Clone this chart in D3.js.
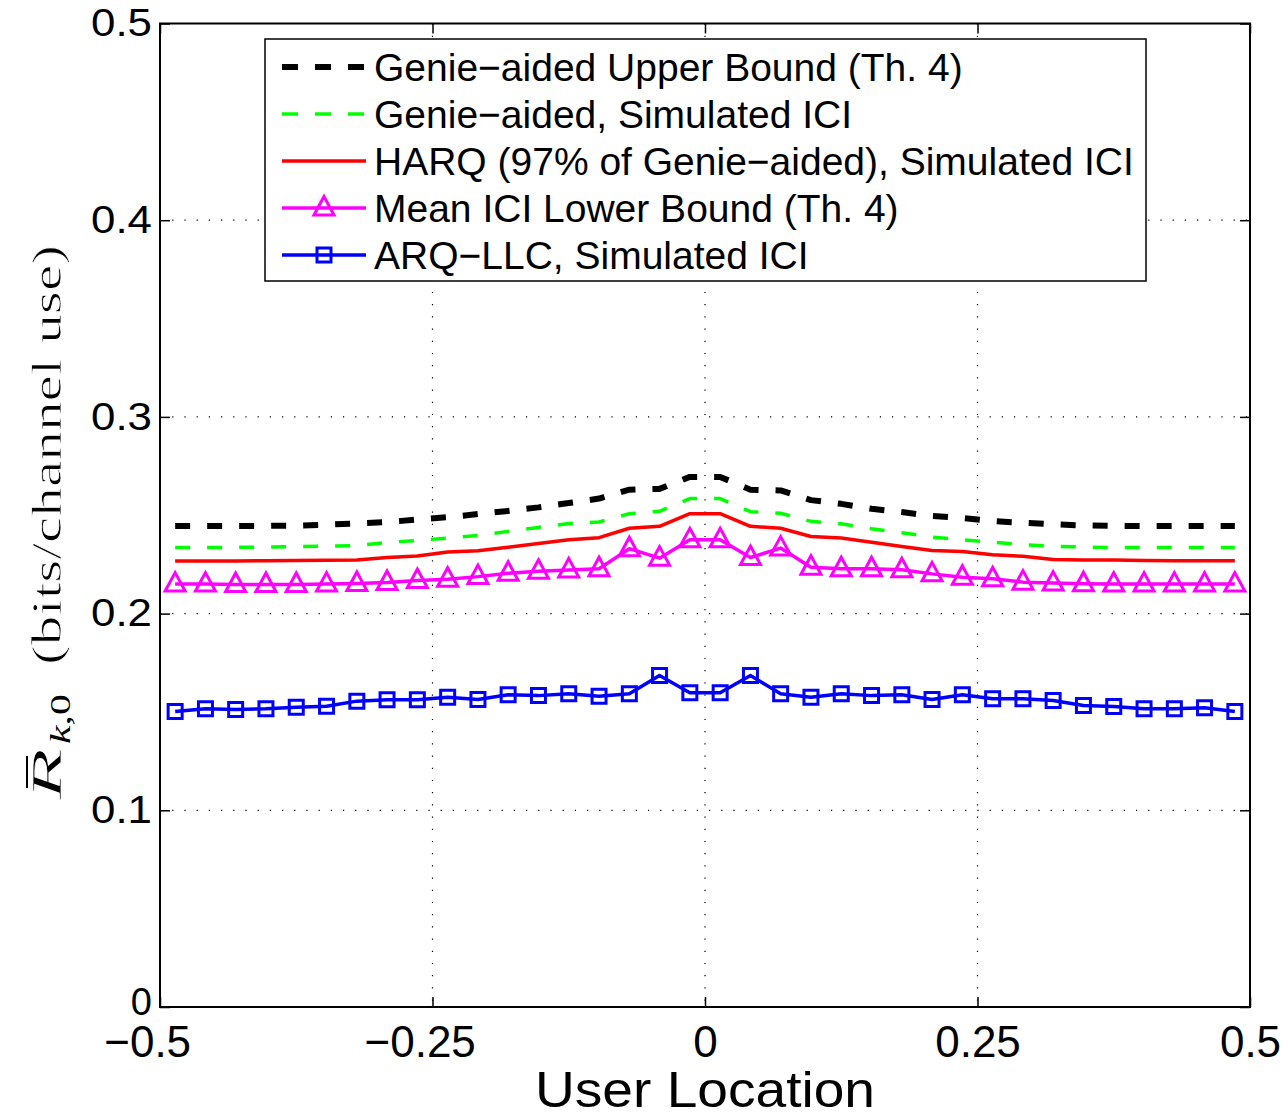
<!DOCTYPE html>
<html>
<head>
<meta charset="utf-8">
<script src="https://cdn.jsdelivr.net/npm/d3@7"></script>
<style>
  body { margin: 0; background: #fff; }
  svg { display: block; }
  .axis text { font-family: "Liberation Sans", Arial, sans-serif; fill: #000; }
  .axis line { stroke: #000; stroke-width: 1.5; }
</style>
</head>
<body>
<div id="chart"></div>
<script>
// User location of each simulated user
const userLocation = [-0.4861, -0.4583, -0.4306, -0.4028, -0.3750, -0.3472, -0.3194, -0.2917, -0.2639,
    -0.2361, -0.2083, -0.1806, -0.1528, -0.1250, -0.0972, -0.0694, -0.0417, -0.0139,
    0.0139, 0.0417, 0.0694, 0.0972, 0.1250, 0.1528, 0.1806, 0.2083, 0.2361,
    0.2639, 0.2917, 0.3194, 0.3472, 0.3750, 0.4028, 0.4306, 0.4583, 0.4861];

// Series values
const genieUpperBound = [0.2445, 0.2445, 0.2445, 0.2446, 0.2447, 0.2452, 0.2458, 0.2465, 0.2478,
    0.2490, 0.2506, 0.2522, 0.2540, 0.2562, 0.2585, 0.2630, 0.2634, 0.2695,
    0.2695, 0.2630, 0.2626, 0.2577, 0.2558, 0.2533, 0.2516, 0.2496, 0.2486,
    0.2470, 0.2462, 0.2454, 0.2448, 0.2446, 0.2445, 0.2445, 0.2445, 0.2445];
const genieSimulated = [0.2336, 0.2336, 0.2337, 0.2338, 0.2340, 0.2343, 0.2345, 0.2362, 0.2372,
    0.2384, 0.2397, 0.2418, 0.2438, 0.2458, 0.2466, 0.2508, 0.2520, 0.2585,
    0.2585, 0.2518, 0.2510, 0.2469, 0.2457, 0.2431, 0.2411, 0.2389, 0.2375,
    0.2363, 0.2350, 0.2343, 0.2338, 0.2336, 0.2336, 0.2336, 0.2336, 0.2336];
const harqSimulated = [0.2268, 0.2268, 0.2268, 0.2269, 0.2270, 0.2271, 0.2273, 0.2285, 0.2293,
    0.2313, 0.2320, 0.2337, 0.2356, 0.2375, 0.2386, 0.2434, 0.2444, 0.2508,
    0.2508, 0.2444, 0.2434, 0.2392, 0.2384, 0.2363, 0.2341, 0.2321, 0.2316,
    0.2299, 0.2291, 0.2275, 0.2273, 0.2272, 0.2270, 0.2269, 0.2269, 0.2269];
const meanIciLowerBound = [0.2150, 0.2150, 0.2148, 0.2148, 0.2148, 0.2150, 0.2153, 0.2158, 0.2168,
    0.2175, 0.2188, 0.2205, 0.2215, 0.2222, 0.2228, 0.2330, 0.2282, 0.2375,
    0.2375, 0.2285, 0.2333, 0.2236, 0.2228, 0.2228, 0.2223, 0.2202, 0.2185,
    0.2177, 0.2160, 0.2155, 0.2152, 0.2150, 0.2150, 0.2150, 0.2150, 0.2150];
const arqLlcSimulated = [0.1502, 0.1516, 0.1512, 0.1516, 0.1524, 0.1529, 0.1555, 0.1562, 0.1562,
    0.1575, 0.1563, 0.1587, 0.1583, 0.1592, 0.1580, 0.1592, 0.1685, 0.1598,
    0.1598, 0.1685, 0.1592, 0.1575, 0.1592, 0.1583, 0.1587, 0.1563, 0.1587,
    0.1567, 0.1567, 0.1558, 0.1533, 0.1528, 0.1516, 0.1516, 0.1521, 0.1502];

// Tick labels and legend text
const xTicks = [-0.5, -0.25, 0, 0.25, 0.5];
const yTicks = [0, 0.1, 0.2, 0.3, 0.4, 0.5];
const legendLabels = [
    "Genie\u2212aided Upper Bound (Th. 4)",
    "Genie\u2212aided, Simulated ICI",
    "HARQ (97% of Genie\u2212aided), Simulated ICI",
    "Mean ICI Lower Bound (Th. 4)",
    "ARQ\u2212LLC, Simulated ICI"
];

const width = 1285;
const height = 1117;
const plot = { left: 160, right: 1250, top: 23.5, bottom: 1007 };

const svg = d3.select("#chart")
    .append("svg")
    .attr("width", width)
    .attr("height", height);

const x = d3.scaleLinear().domain([-0.5, 0.5]).range([plot.left, plot.right]);
const y = d3.scaleLinear().domain([0, 0.5]).range([plot.bottom, plot.top]);

// Series styles
const series = [
    { values: genieUpperBound, color: "#000000", width: 6, dash: "15,17", marker: null },
    { values: genieSimulated, color: "#00ff00", width: 3.5, dash: "15,17", marker: null },
    { values: harqSimulated, color: "#ff0000", width: 3.5, dash: null, marker: null },
    { values: meanIciLowerBound, color: "#ff00ff", width: 3.5, dash: null, marker: "triangle" },
    { values: arqLlcSimulated, color: "#0000ff", width: 3.5, dash: null, marker: "square" }
];

const markerPath = {
    triangle: "M0,-11.5L10,7L-10,7Z",
    square: "M-7,-7H7V7H-7Z"
};

// Dotted grid
const gridX = xTicks.filter(d => d > -0.5 && d < 0.5);
const gridY = yTicks.filter(d => d > 0 && d < 0.5);
svg.append("g")
    .selectAll("line")
    .data(gridX)
    .enter()
    .append("line")
    .attr("x1", d => x(d)).attr("x2", d => x(d))
    .attr("y1", plot.top).attr("y2", plot.bottom)
    .attr("stroke", "#000")
    .attr("stroke-width", 1.2)
    .attr("stroke-dasharray", "1.2,11");
svg.append("g")
    .selectAll("line")
    .data(gridY)
    .enter()
    .append("line")
    .attr("y1", d => y(d)).attr("y2", d => y(d))
    .attr("x1", plot.left).attr("x2", plot.right)
    .attr("stroke", "#000")
    .attr("stroke-width", 1.2)
    .attr("stroke-dasharray", "1.2,11");

// Lines and markers
const line = d3.line()
    .x((d, i) => x(userLocation[i]))
    .y(d => y(d));

series.forEach(s => {
    svg.append("path")
        .datum(s.values)
        .attr("fill", "none")
        .attr("stroke", s.color)
        .attr("stroke-width", s.width)
        .attr("stroke-dasharray", s.dash)
        .attr("stroke-linejoin", "round")
        .attr("d", line);

    if (s.marker) {
        svg.append("g")
            .selectAll("path")
            .data(s.values)
            .enter()
            .append("path")
            .attr("transform", (d, i) => `translate(${x(userLocation[i])},${y(d)})`)
            .attr("d", markerPath[s.marker])
            .attr("fill", "none")
            .attr("stroke", s.color)
            .attr("stroke-width", 3);
    }
});

// Frame
svg.append("rect")
    .attr("x", plot.left)
    .attr("y", plot.top)
    .attr("width", plot.right - plot.left)
    .attr("height", plot.bottom - plot.top)
    .attr("fill", "none")
    .attr("stroke", "#000")
    .attr("stroke-width", 2);

// Axes (ticks point inside)
const xAxis = svg.append("g")
    .attr("class", "axis")
    .attr("transform", `translate(0,${plot.bottom})`)
    .call(d3.axisBottom(x).tickValues(xTicks).tickSizeInner(-10).tickSizeOuter(0).tickPadding(19)
        .tickFormat(d => String(Math.abs(d))));
xAxis.select(".domain").remove();
xAxis.selectAll("text").style("font-size", "44px");
// minus sign hangs left of the centred number, like the original
xAxis.selectAll(".tick").each(function (d) {
    if (d >= 0) return;
    const t = d3.select(this).select("text");
    const w = t.node().getComputedTextLength();
    d3.select(this).append("text")
        .attr("x", -w / 2)
        .attr("y", t.attr("y"))
        .attr("dy", t.attr("dy"))
        .attr("text-anchor", "end")
        .style("font-size", "44px")
        .text("\u2212");
});

const topAxis = svg.append("g")
    .attr("class", "axis")
    .attr("transform", `translate(0,${plot.top})`)
    .call(d3.axisTop(x).tickValues(xTicks).tickSizeInner(-10).tickSizeOuter(0).tickFormat(""));
topAxis.select(".domain").remove();

const yAxis = svg.append("g")
    .attr("class", "axis")
    .attr("transform", `translate(${plot.left},0)`)
    .call(d3.axisLeft(y).tickValues(yTicks).tickSizeInner(-10).tickSizeOuter(0).tickPadding(8)
        .tickFormat(d => String(d)));
yAxis.select(".domain").remove();
yAxis.selectAll("text")
    .style("font-size", "38px")
    .attr("dy", d => d === 0 ? "0.2em" : "0.32em")
    .attr("textLength", d => d === 0 ? null : 61)
    .attr("lengthAdjust", "spacingAndGlyphs");

const rightAxis = svg.append("g")
    .attr("class", "axis")
    .attr("transform", `translate(${plot.right},0)`)
    .call(d3.axisRight(y).tickValues(yTicks).tickSizeInner(-10).tickSizeOuter(0).tickFormat(""));
rightAxis.select(".domain").remove();

// X axis title
svg.append("text")
    .attr("x", x(0))
    .attr("y", 1107)
    .attr("text-anchor", "middle")
    .attr("textLength", 340)
    .attr("lengthAdjust", "spacingAndGlyphs")
    .style("font-family", "'Liberation Sans', Arial, sans-serif")
    .style("font-size", "50px")
    .text("User Location");

// Y axis title (serif, rotated); a thin white outline keeps the stretched glyphs light
const yTitle = svg.append("g")
    .attr("transform", "translate(61,800) rotate(-90)")
    .style("font-family", "'Liberation Serif', 'DejaVu Serif', serif");
yTitle.append("text")
    .attr("x", 0)
    .attr("y", 0)
    .attr("textLength", 52)
    .attr("lengthAdjust", "spacingAndGlyphs")
    .attr("stroke", "#fff")
    .attr("stroke-width", 0.7)
    .style("font-size", "42px")
    .style("font-style", "italic")
    .text("R");
// bar over R
yTitle.append("line")
    .attr("x1", 12).attr("x2", 44)
    .attr("y1", -34).attr("y2", -34)
    .attr("stroke", "#000")
    .attr("stroke-width", 2);
const sub = yTitle.append("text")
    .attr("x", 56)
    .attr("y", 9)
    .attr("textLength", 50)
    .attr("lengthAdjust", "spacingAndGlyphs")
    .style("font-size", "30px");
sub.append("tspan").style("font-style", "italic").text("k");
sub.append("tspan").text(",0");
yTitle.append("text")
    .attr("x", 135)
    .attr("y", 0)
    .attr("textLength", 420)
    .attr("lengthAdjust", "spacingAndGlyphs")
    .attr("stroke", "#fff")
    .attr("stroke-width", 0.8)
    .style("font-size", "42px")
    .text("(bits/channel use)");

// Legend
const legend = svg.append("g");
legend.append("rect")
    .attr("x", 265)
    .attr("y", 39)
    .attr("width", 881)
    .attr("height", 242)
    .attr("fill", "#fff")
    .attr("stroke", "#000")
    .attr("stroke-width", 1.5);

const legendItems = legend.selectAll(".legend-item")
    .data(series)
    .enter()
    .append("g")
    .attr("class", "legend-item")
    .attr("transform", (d, i) => `translate(0,${67 + i * 47})`);

legendItems.append("line")
    .attr("x1", 282)
    .attr("x2", 366)
    .attr("stroke", d => d.color)
    .attr("stroke-width", d => d.width)
    .attr("stroke-dasharray", d => d.dash ? "16,17" : null);

legendItems.filter(d => d.marker)
    .append("path")
    .attr("transform", "translate(324,0)")
    .attr("d", d => markerPath[d.marker])
    .attr("fill", "none")
    .attr("stroke", d => d.color)
    .attr("stroke-width", 3);

legendItems.append("text")
    .attr("x", 374)
    .attr("y", 14)
    .style("font-family", "'Liberation Sans', Arial, sans-serif")
    .style("font-size", "39px")
    .text((d, i) => legendLabels[i]);
</script>
</body>
</html>
